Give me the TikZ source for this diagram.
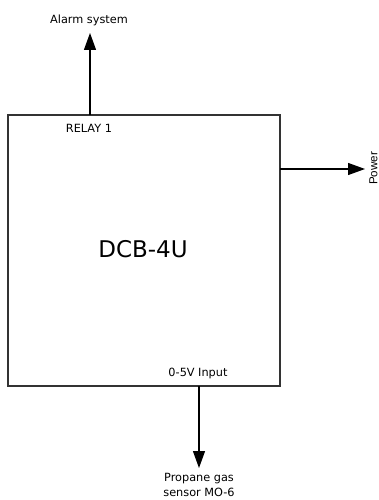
\documentclass[tikz,border=0pt]{standalone}
\usepackage{fontspec}
\setmainfont{DejaVu Sans}
\newfontfamily\arialfont{Liberation Sans}
\usetikzlibrary{arrows.meta}
\begin{document}
\begin{tikzpicture}[x=1pt,y=-1pt,
  lbl/.style={inner sep=0pt,font=\fontsize{11.3}{14.5}\selectfont,align=center},
  conn/.style={draw=black,line width=1.2pt,-{Triangle[length=17pt,width=12pt]}},
  blk/.style={draw=black!80,line width=1.1pt}]
\useasboundingbox (0,0) rectangle (379,500);
\coordinate (bTL) at (8,115);
\coordinate (bBR) at (280,386);
\draw[blk] (bTL) rectangle (bBR);
\node[lbl,font=\fontsize{23}{26}\selectfont] (title) at (143,249) {DCB-4U};
\node[lbl] (relay) at (89,128) {RELAY 1};
\node[lbl] (input) at (198,373) {0-5V Input};
\coordinate (aTop) at (90,115);
\coordinate (aTip) at (90,33);
\node[lbl] (alarm) at (89,20) {Alarm system};
\coordinate (pStart) at (280,169);
\coordinate (pTip) at (365,169);
\node[lbl,font=\arialfont\fontsize{11.6}{14}\selectfont,rotate=90] (power) at (373.5,168.5) {Power};
\coordinate (sStart) at (199,386);
\coordinate (sTip) at (199,468);
\node[lbl] (sensor) at (199,485) {Propane gas\\sensor MO-6};
\draw[conn] (aTop) -- (aTip);
\draw[conn] (pStart) -- (pTip);
\draw[conn] (sStart) -- (sTip);
\end{tikzpicture}
\end{document}
